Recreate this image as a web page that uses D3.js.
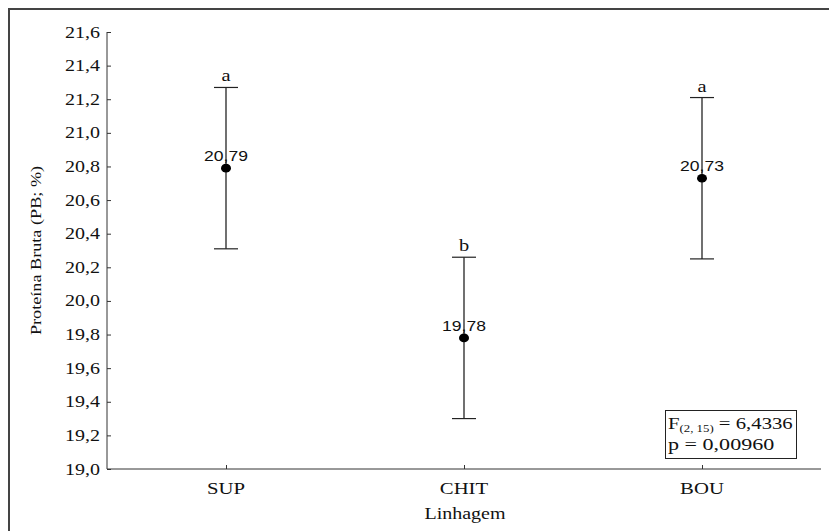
<!DOCTYPE html>
<html>
<head>
<meta charset="utf-8">
<script src="https://cdn.jsdelivr.net/npm/d3@7/dist/d3.min.js"></script>
<style>
  html, body { margin: 0; padding: 0; background: #fff; }
  svg { display: block; }
</style>
</head>
<body>
<svg id="chart" width="829" height="531"></svg>
<script>
// Crude protein means by lineage with confidence intervals
const categories = ["SUP", "CHIT", "BOU"];
const means = [20.79, 19.78, 20.73];
const lower = [20.31, 19.30, 20.25];
const upper = [21.27, 20.26, 21.21];
const groupLetters = ["a", "b", "a"];
const valueLabels = ["20,79", "19,78", "20,73"];
const yTicks = [19.0, 19.2, 19.4, 19.6, 19.8, 20.0, 20.2, 20.4, 20.6, 20.8, 21.0, 21.2, 21.4, 21.6];
const yTitle = "Proteína Bruta (PB; %)";
const xTitle = "Linhagem";
const statF = "6,4336";
const statP = "p = 0,00960";

const svg = d3.select("#chart");
const serif = "'Liberation Serif', 'Times New Roman', serif";
const sans = "'Liberation Sans', Arial, sans-serif";
const axisColor = "#333";

const plotLeft = 107, plotRight = 821, plotTop = 32, plotBottom = 469;

const x = d3.scalePoint().domain(categories).range([plotLeft, plotRight]).padding(0.5);
const y = d3.scaleLinear().domain([19, 21.6]).range([plotBottom, plotTop]);

// Text drawn with a horizontal stretch around its anchor point
function wideText(g, tx, ty, str, opts) {
  const grp = g.append("g").attr("transform", `translate(${tx},${ty}) scale(${opts.sx || 1},1)`);
  return grp.append("text")
    .attr("x", 0).attr("y", 0)
    .attr("text-anchor", opts.anchor || "middle")
    .attr("font-family", opts.family || serif)
    .attr("font-size", opts.size || 16)
    .attr("fill", opts.fill || "#111")
    .text(str);
}

// Outer frame
svg.append("path")
  .attr("d", "M9,531 V9 H829")
  .attr("fill", "none")
  .attr("stroke", "#444")
  .attr("stroke-width", 2);

// Y axis
const yAxis = d3.axisLeft(y).tickValues(yTicks).tickSize(-4).tickPadding(0)
  .tickFormat(d => d3.format(".1f")(d).replace(".", ","));
const gy = svg.append("g").attr("transform", `translate(${plotLeft},0)`).call(yAxis);
gy.select(".domain").attr("stroke", axisColor).attr("d", `M0,${plotTop}V${plotBottom}`);
gy.selectAll(".tick line").attr("stroke", axisColor);
gy.selectAll(".tick text").remove();
yTicks.forEach(t => {
  wideText(svg, plotLeft - 7, y(t) + 5.5, d3.format(".1f")(t).replace(".", ","), { anchor: "end", size: 16, sx: 1.25 });
});

// X axis
const xAxis = d3.axisBottom(x).tickSize(-4).tickFormat("");
const gx = svg.append("g").attr("transform", `translate(0,${plotBottom})`).call(xAxis);
gx.select(".domain").attr("stroke", axisColor).attr("d", `M${plotLeft},0H${plotRight}`);
gx.selectAll(".tick line").attr("stroke", axisColor);
categories.forEach(c => {
  wideText(svg, x(c), 494, c, { size: 17, sx: 1.22 });
});

// Axis titles
wideText(svg, 465, 519, xTitle, { size: 16, sx: 1.25 });
svg.append("g").attr("transform", `translate(41,${(plotTop + plotBottom) / 2}) rotate(-90) scale(1.3,1)`)
  .append("text")
  .attr("text-anchor", "middle")
  .attr("font-family", serif)
  .attr("font-size", 14)
  .attr("fill", "#111")
  .text(yTitle);

// Error bars, means and labels
const capHalf = 12;
const bars = svg.append("g");
categories.forEach((c, i) => {
  const cx = x(c);
  bars.append("line").attr("x1", cx).attr("x2", cx).attr("y1", y(upper[i])).attr("y2", y(lower[i]))
    .attr("stroke", "#111").attr("stroke-width", 1.2);
  [upper[i], lower[i]].forEach(v => {
    bars.append("line").attr("x1", cx - capHalf).attr("x2", cx + capHalf).attr("y1", y(v)).attr("y2", y(v))
      .attr("stroke", "#222").attr("stroke-width", 1.2);
  });
  bars.append("ellipse").attr("cx", cx).attr("cy", y(means[i])).attr("rx", 5).attr("ry", 4.3).attr("fill", "#000");
  wideText(bars, cx, y(means[i]) - 7, valueLabels[i], { family: sans, size: 15, sx: 1.17 });
  wideText(bars, cx, y(upper[i]) - 6, groupLetters[i], { size: 17, sx: 1.2 });
});

// Statistics box
const box = svg.append("g");
box.append("rect").attr("x", 665.5).attr("y", 410.5).attr("width", 131).attr("height", 48)
  .attr("fill", "#fff").attr("stroke", "#222").attr("stroke-width", 1);
const fg = box.append("g").attr("transform", "translate(668,429) scale(1.22,1)");
const ft = fg.append("text").attr("font-family", serif).attr("font-size", 17).attr("fill", "#111");
ft.append("tspan").text("F");
ft.append("tspan").attr("font-size", 10.5).attr("dy", 3).text("(2, 15)");
ft.append("tspan").attr("dy", -3).text(" = " + statF);
box.append("g").attr("transform", "translate(668,450) scale(1.3,1)")
  .append("text").attr("font-family", serif).attr("font-size", 17).attr("fill", "#111").text(statP);
</script>
</body>
</html>
